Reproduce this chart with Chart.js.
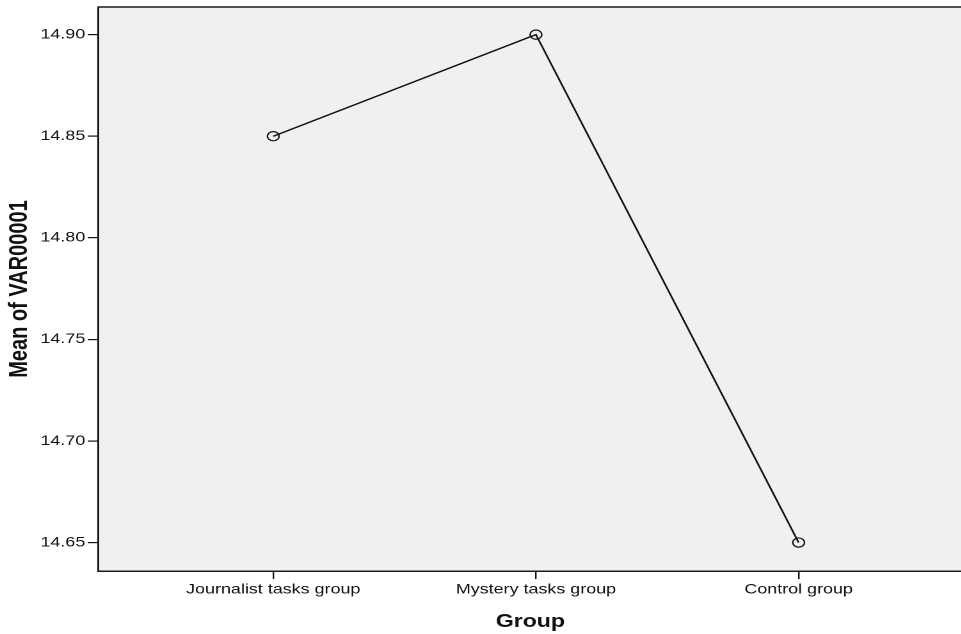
<!DOCTYPE html>
<html>
<head>
<meta charset="utf-8">
<script src="https://cdn.jsdelivr.net/npm/chart.js@4"></script>
<style>
  html, body { margin: 0; padding: 0; background: #fff; overflow: hidden; }
  /* the source picture is stretched sideways, so the chart is drawn narrow and widened */
  #wrap { width: 758px; height: 634px; transform: scaleX(1.28); transform-origin: 0 0; }
</style>
</head>
<body>
<div id="wrap"><canvas id="chart"></canvas></div>
<script>
const groups = ['Journalist tasks group', 'Mystery tasks group', 'Control group'];
const means = [14.85, 14.90, 14.65];
const yTicks = [14.65, 14.70, 14.75, 14.80, 14.85, 14.90];

const FONT = "'Liberation Sans', Arial, sans-serif";

// grey plot background + top frame line
const frame = {
  id: 'frame',
  beforeDraw(chart) {
    const { ctx, chartArea: a } = chart;
    ctx.save();
    ctx.fillStyle = '#f0f0f0';
    ctx.fillRect(a.left, a.top, a.right - a.left, a.bottom - a.top);
    ctx.strokeStyle = '#1a1a1a';
    ctx.lineWidth = 1.5;
    ctx.beginPath();
    ctx.moveTo(a.left, a.top);
    ctx.lineTo(a.right, a.top);
    ctx.stroke();
    ctx.restore();
  }
};

function noPad(s) {
  s.paddingTop = 0;
  s.paddingBottom = 0;
  s.paddingLeft = 0;
  s.paddingRight = 0;
}

new Chart(document.getElementById('chart'), {
  type: 'line',
  data: {
    datasets: [{
      data: means.map((v, i) => ({ x: i, y: v })),
      borderColor: '#111',
      borderWidth: 1.4,
      pointRadius: 4.6,
      pointBorderWidth: 1.2,
      pointBackgroundColor: 'rgba(0,0,0,0)',
      pointBorderColor: '#111',
      tension: 0,
    }],
  },
  options: {
    responsive: true,
    maintainAspectRatio: false,
    animation: false,
    devicePixelRatio: 2,
    layout: { padding: { top: 7, right: 0, left: 0, bottom: 0 } },
    plugins: { legend: { display: false }, tooltip: { enabled: false } },
    scales: {
      x: {
        type: 'linear',
        min: -0.667,
        max: 2.625,
        afterBuildTicks: s => { s.ticks = groups.map((g, i) => ({ value: i })); },
        afterFit: s => { s.height = 63; noPad(s); },
        ticks: {
          callback: v => groups[v],
          color: '#111',
          font: { family: FONT, size: 14 },
          padding: 2,
          maxRotation: 0,
          autoSkip: false,
        },
        grid: { drawOnChartArea: false, drawTicks: true, tickLength: 8, color: '#111', lineWidth: 1.2 },
        border: { display: true, color: '#1a1a1a', width: 1.5 },
        title: {
          display: true,
          text: 'Group',
          color: '#111',
          font: { family: FONT, size: 18, weight: 'bold' },
          padding: { top: 0, bottom: 1 },
        },
      },
      y: {
        min: 14.636,
        max: 14.9136,
        afterBuildTicks: s => { s.ticks = yTicks.map(v => ({ value: v })); },
        afterFit: s => { s.width = 76.6; noPad(s); },
        ticks: {
          callback: v => Number(v).toFixed(2),
          color: '#111',
          font: { family: FONT, size: 14 },
          padding: 2,
        },
        grid: { drawOnChartArea: false, drawTicks: true, tickLength: 8, color: '#111', lineWidth: 1.2 },
        border: { display: true, color: '#1a1a1a', width: 1.5 },
        title: {
          display: true,
          text: 'Mean of VAR00001',
          color: '#111',
          font: { family: FONT, size: 20, weight: 'bold' },
          padding: { top: 3.5, bottom: 0 },
        },
      },
    },
  },
  plugins: [frame],
});
</script>
</body>
</html>
